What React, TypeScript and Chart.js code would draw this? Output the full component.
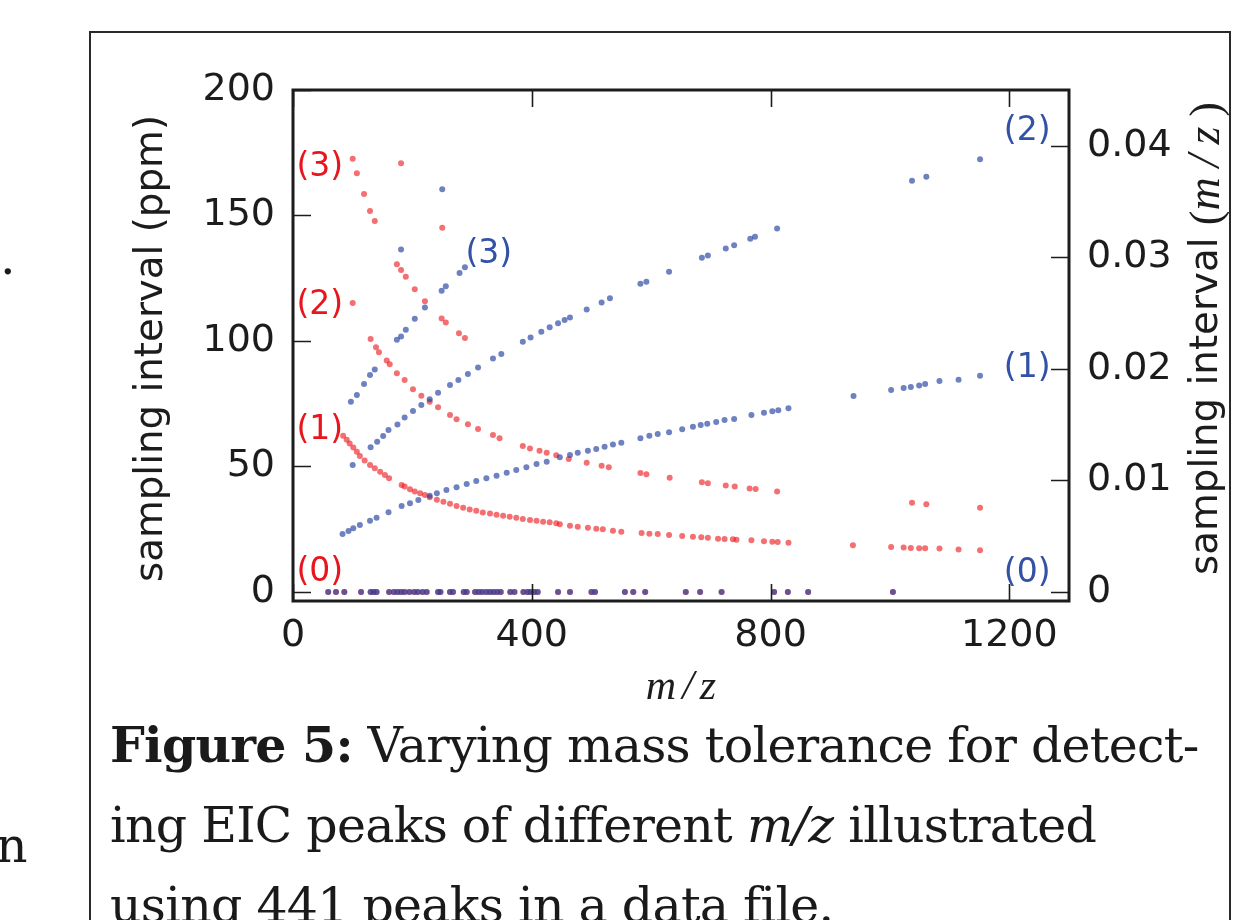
import React, { useEffect, useRef } from "react";
import { Chart, registerables } from "chart.js";
Chart.register(...registerables);

// ---- data ----
const zeroMz = [59, 72, 86, 114, 130, 135, 140, 161, 169, 175, 181, 187, 195, 203, 209, 217, 224, 243, 247, 263, 268, 286, 291, 305, 311, 317, 324, 330, 336, 342, 348, 364, 371, 386, 393, 398, 404, 410, 444, 464, 500, 506, 556, 570, 590, 658, 682, 718, 806, 829, 863, 1005];

const red1Mz = [84, 90, 95, 101, 107, 112, 120, 129, 137, 146, 154, 161, 182, 187, 196, 204, 213, 221, 229, 241, 252, 263, 274, 285, 296, 307, 318, 330, 341, 352, 363, 374, 385, 397, 408, 419, 430, 441, 447, 464, 477, 494, 508, 519, 536, 550, 584, 597, 611, 630, 652, 670, 684, 695, 712, 723, 737, 743, 768, 789, 803, 812, 830, 938, 1002, 1023, 1035, 1049, 1059, 1083, 1115, 1151];
const red1Ppm = [62.2, 60.6, 59.2, 57.6, 55.9, 54.2, 52.4, 50.6, 49.3, 47.9, 46.6, 45.3, 42.6, 42.0, 40.9, 40.0, 39.3, 38.6, 37.7, 36.7, 35.9, 35.1, 34.3, 33.6, 32.9, 32.4, 31.7, 31.3, 30.8, 30.4, 30.0, 29.6, 29.1, 28.7, 28.4, 28.0, 27.8, 27.4, 27.0, 26.4, 26.0, 25.6, 25.2, 25.0, 24.4, 24.0, 23.5, 23.2, 23.1, 22.7, 22.3, 22.0, 21.8, 21.6, 21.2, 21.1, 21.0, 20.8, 20.6, 20.2, 20.0, 19.9, 19.6, 18.6, 17.9, 17.7, 17.5, 17.4, 17.4, 17.3, 16.9, 16.6];

const red2Mz = [100, 130, 139, 144, 157, 162, 174, 187, 201, 215, 229, 243, 263, 274, 293, 310, 335, 346, 385, 397, 413, 425, 441, 462, 492, 517, 529, 582, 592, 631, 685, 695, 725, 740, 765, 775, 811, 1037, 1061, 1151];
const red2Ppm = [115.1, 100.8, 97.5, 95.5, 92.2, 90.7, 87.1, 84.5, 80.8, 78.2, 75.8, 73.6, 70.5, 68.8, 66.8, 64.9, 62.5, 61.2, 58.2, 57.2, 56.3, 55.5, 54.5, 53.0, 51.5, 50.3, 49.7, 47.4, 46.9, 45.5, 43.7, 43.3, 42.4, 42.0, 41.2, 41.0, 40.0, 35.5, 34.9, 33.6];

const red3Mz = [100, 107, 119, 129, 137, 174, 181, 181, 189, 204, 221, 249, 250, 256, 278, 288];
const red3Ppm = [172.6, 166.8, 158.6, 151.8, 147.8, 130.6, 128.3, 170.8, 125.6, 120.6, 115.8, 109.0, 145.1, 107.4, 103.1, 101.2];

const blue1Mz = [83, 93, 101, 112, 129, 140, 160, 182, 196, 210, 229, 241, 257, 274, 291, 307, 324, 341, 358, 374, 391, 408, 425, 447, 464, 477, 494, 508, 522, 536, 550, 582, 597, 611, 630, 652, 670, 683, 694, 709, 723, 739, 768, 789, 803, 813, 830, 939, 1002, 1023, 1035, 1049, 1059, 1083, 1115, 1151];
const blue1Val = [0.0052, 0.00547, 0.00571, 0.006, 0.00639, 0.00666, 0.00714, 0.00771, 0.00795, 0.00824, 0.00863, 0.00884, 0.00914, 0.00938, 0.00968, 0.00995, 0.01019, 0.01042, 0.01069, 0.01093, 0.01117, 0.01147, 0.01168, 0.01207, 0.01228, 0.01248, 0.01266, 0.01281, 0.01302, 0.01323, 0.01338, 0.01377, 0.01401, 0.01416, 0.01431, 0.01458, 0.01481, 0.01496, 0.01508, 0.01523, 0.01541, 0.0155, 0.01586, 0.01607, 0.01619, 0.01628, 0.01646, 0.01756, 0.0181, 0.01828, 0.01837, 0.01852, 0.01864, 0.01891, 0.01902, 0.01938];

const blue2Mz = [100, 130, 141, 151, 160, 175, 187, 201, 215, 229, 243, 263, 277, 293, 310, 335, 349, 385, 398, 416, 430, 444, 455, 464, 492, 517, 531, 582, 592, 630, 685, 695, 725, 739, 766, 774, 811, 1037, 1061, 1151];
const blue2Val = [0.01138, 0.01297, 0.01347, 0.01398, 0.01452, 0.01502, 0.01565, 0.01622, 0.01676, 0.01727, 0.01786, 0.01855, 0.019, 0.01953, 0.02013, 0.02094, 0.02133, 0.02243, 0.02282, 0.02332, 0.02372, 0.02408, 0.02437, 0.02461, 0.02533, 0.02596, 0.02634, 0.02763, 0.0278, 0.0287, 0.02996, 0.03017, 0.0308, 0.03109, 0.03166, 0.03184, 0.03259, 0.03686, 0.03722, 0.0388];

const blue3Mz = [97, 107, 119, 129, 137, 174, 181, 181, 189, 204, 221, 249, 250, 256, 279, 288];
const blue3Val = [0.01705, 0.01765, 0.01864, 0.01944, 0.01995, 0.0226, 0.0229, 0.0307, 0.0235, 0.0245, 0.0255, 0.027, 0.0361, 0.0274, 0.0286, 0.0291];

// ---- axes ----
const xTicks = [0, 400, 800, 1200];
const leftTicks = [0, 50, 100, 150, 200];
const rightTicks = [0, 0.01, 0.02, 0.03, 0.04];
const rightTickLabels = ["0", "0.01", "0.02", "0.03", "0.04"];

// ---- level annotations (positions in data units: m/z, ppm) ----
const redLabelText = ["(3)", "(2)", "(1)", "(0)"];
const redLabelMz = [45, 45, 45, 45];
const redLabelPpm = [169.0, 114.3, 64.5, 7.6];
const blueLabelText = ["(3)", "(2)", "(1)", "(0)"];
const blueLabelMz = [328, 1230, 1230, 1230];
const blueLabelPpm = [134.3, 183.5, 89.2, 7.4];

const RED = "rgba(236, 22, 28, 0.62)";
const BLUE = "rgba(42, 70, 162, 0.68)";
const RED_TXT = "#e8161c";
const BLUE_TXT = "#3352a6";
const INK = "#1c1c1c";
const SANS = "'DejaVu Sans', sans-serif";
const SERIF = "'Liberation Serif', 'DejaVu Serif', serif";
const CAPTION_FONT = "'DejaVu Serif', serif";

const pts = (xs: number[], ys: number[]) => xs.map((x, i) => ({ x, y: ys[i] }));

const decor = {
  id: "decor",
  afterDatasetsDraw(chart: any) {
    const { ctx, chartArea: a, scales } = chart;
    const sx = scales.x, yl = scales.y, yr = scales.y1;
    ctx.save();
    ctx.strokeStyle = INK;
    ctx.lineWidth = 1.6;
    ctx.beginPath();
    for (const v of xTicks) {
      const px = Math.round(sx.getPixelForValue(v)) + 0.5;
      ctx.moveTo(px, a.top); ctx.lineTo(px, a.top + 17);
      ctx.moveTo(px, a.bottom); ctx.lineTo(px, a.bottom - 17);
    }
    for (const v of leftTicks) {
      const py = Math.round(yl.getPixelForValue(v)) + 0.5;
      ctx.moveTo(a.left, py); ctx.lineTo(a.left + 18, py);
    }
    for (const v of rightTicks) {
      const py = Math.round(yr.getPixelForValue(v)) + 0.5;
      ctx.moveTo(a.right, py); ctx.lineTo(a.right - 18, py);
    }
    ctx.stroke();
    ctx.lineWidth = 3;
    ctx.strokeRect(a.left, a.top, a.right - a.left, a.bottom - a.top);

    // level labels
    ctx.font = `33px ${SANS}`;
    ctx.textAlign = "center";
    ctx.textBaseline = "middle";
    ctx.fillStyle = RED_TXT;
    redLabelText.forEach((t, i) => {
      ctx.fillText(t, sx.getPixelForValue(redLabelMz[i]), yl.getPixelForValue(redLabelPpm[i]));
    });
    ctx.fillStyle = BLUE_TXT;
    blueLabelText.forEach((t, i) => {
      ctx.fillText(t, sx.getPixelForValue(blueLabelMz[i]), yl.getPixelForValue(blueLabelPpm[i]));
    });

    // axis titles
    ctx.fillStyle = INK;
    // left
    ctx.save();
    ctx.translate(152, (a.top + a.bottom) / 2 + 3);
    ctx.rotate(-Math.PI / 2);
    ctx.font = `38.8px ${SANS}`;
    ctx.fillText("sampling interval (ppm)", 0, 0);
    ctx.restore();
    // right (mixed fonts)
    ctx.save();
    ctx.translate(1207, (a.top + a.bottom) / 2 - 7);
    ctx.rotate(-Math.PI / 2);
    const parts: [string, string, string][] = [
      ["sampling interval ", `38.8px ${SANS}`, "0px"],
      ["(", `44px ${SERIF}`, "0px"],
      ["m/z", `italic 46px ${SERIF}`, "10px"],
      [")", `44px ${SERIF}`, "0px"],
    ];
    let total = 0;
    for (const [t, f, ls] of parts) { ctx.font = f; (ctx as any).letterSpacing = ls; total += ctx.measureText(t).width; }
    let cx = -total / 2;
    ctx.textAlign = "left";
    for (const [t, f, ls] of parts) {
      ctx.font = f;
      (ctx as any).letterSpacing = ls;
      ctx.fillText(t, cx, t === "(" || t === ")" ? 1 : 0);
      cx += ctx.measureText(t).width;
    }
    (ctx as any).letterSpacing = "0px";
    ctx.restore();
    // bottom
    ctx.font = `italic 42px ${SERIF}`;
    (ctx as any).letterSpacing = "6px";
    ctx.textAlign = "center";
    ctx.fillText("m/z", (a.left + a.right) / 2 + 3, 688);
    (ctx as any).letterSpacing = "0px";
    ctx.restore();
  },
};

export default function App() {
  const ref = useRef<HTMLCanvasElement | null>(null);
  useEffect(() => {
    if (!ref.current) return;
    const tickFont = { family: SANS, size: 38 };
    const chart = new Chart(ref.current, {
      type: "scatter",
      data: {
        datasets: [
          { label: "b0", data: zeroMz.map((x) => ({ x, y: 0 })), yAxisID: "y1", backgroundColor: BLUE },
          { label: "b1", data: pts(blue1Mz, blue1Val), yAxisID: "y1", backgroundColor: BLUE },
          { label: "b2", data: pts(blue2Mz, blue2Val), yAxisID: "y1", backgroundColor: BLUE },
          { label: "b3", data: pts(blue3Mz, blue3Val), yAxisID: "y1", backgroundColor: BLUE },
          { label: "r0", data: zeroMz.map((x) => ({ x, y: 0 })), yAxisID: "y", backgroundColor: RED },
          { label: "r1", data: pts(red1Mz, red1Ppm), yAxisID: "y", backgroundColor: RED },
          { label: "r2", data: pts(red2Mz, red2Ppm), yAxisID: "y", backgroundColor: RED },
          { label: "r3", data: pts(red3Mz, red3Ppm), yAxisID: "y", backgroundColor: RED },
        ],
      },
      options: {
        animation: false,
        responsive: false,
        devicePixelRatio: 1,
        layout: { padding: { top: 90, left: 0, right: 0, bottom: 0 } },
        elements: { point: { radius: 3, borderWidth: 0, hoverRadius: 3 } },
        plugins: { legend: { display: false }, tooltip: { enabled: false } },
        events: [],
        scales: {
          x: {
            type: "linear",
            min: 0,
            max: 1300,
            afterFit: (s: any) => { s.height = 119; },
            afterBuildTicks: (s: any) => { s.ticks = xTicks.map((v) => ({ value: v })); },
            grid: { display: false, drawTicks: false },
            border: { display: false },
            ticks: { font: tickFont, color: INK, padding: 12, maxRotation: 0, callback: (v: any) => String(v) },
          },
          y: {
            type: "linear",
            position: "left",
            min: -3.6,
            max: 200,
            afterFit: (s: any) => { s.width = 293; },
            afterBuildTicks: (s: any) => { s.ticks = leftTicks.map((v) => ({ value: v })); },
            grid: { display: false, drawTicks: false },
            border: { display: false },
            ticks: { font: tickFont, color: INK, padding: 18, callback: (v: any) => String(v) },
          },
          y1: {
            type: "linear",
            position: "right",
            min: -0.00081,
            max: 0.045,
            afterFit: (s: any) => { s.width = 169; },
            afterBuildTicks: (s: any) => { s.ticks = rightTicks.map((v) => ({ value: v })); },
            grid: { display: false, drawTicks: false },
            border: { display: false },
            ticks: {
              font: tickFont,
              color: INK,
              padding: 18,
              callback: (v: any) => rightTickLabels[rightTicks.indexOf(Number(v))] ?? "",
            },
          },
        },
      },
      plugins: [decor],
    });
    return () => chart.destroy();
  }, []);

  const cap: React.CSSProperties = {
    position: "absolute",
    left: 110,
    whiteSpace: "nowrap",
    fontFamily: CAPTION_FONT,
    fontSize: 49,
    letterSpacing: "-0.75px",
    lineHeight: "80px",
    color: "#1a1a1a",
  };
  const side: React.CSSProperties = {
    position: "absolute",
    whiteSpace: "nowrap",
    fontFamily: CAPTION_FONT,
    fontSize: 49,
    lineHeight: "80px",
    color: "#1a1a1a",
  };

  return (
    <div style={{ position: "fixed", left: 0, top: 0, width: 1238, height: 920, overflow: "hidden", background: "#fff" }}>
      <div style={{ ...side, left: 0, top: 218 }}>.</div>
      <div style={{ ...side, left: -4, top: 806 }}>n</div>
      <div style={{ position: "absolute", left: 89, top: 31, width: 1138, height: 1000, border: "2px solid #2a2a2a" }} />
      <canvas ref={ref} width={1238} height={720} style={{ position: "absolute", left: 0, top: 0, width: 1238, height: 720 }} />
      <div style={{ ...cap, top: 705 }}>
        <b>Figure 5:</b> Varying mass tolerance for detect-
      </div>
      <div style={{ ...cap, top: 786 }}>
        ing EIC peaks of different <i>m/z</i> illustrated
      </div>
      <div style={{ ...cap, top: 866 }}>using 441 peaks in a data file.</div>
    </div>
  );
}
